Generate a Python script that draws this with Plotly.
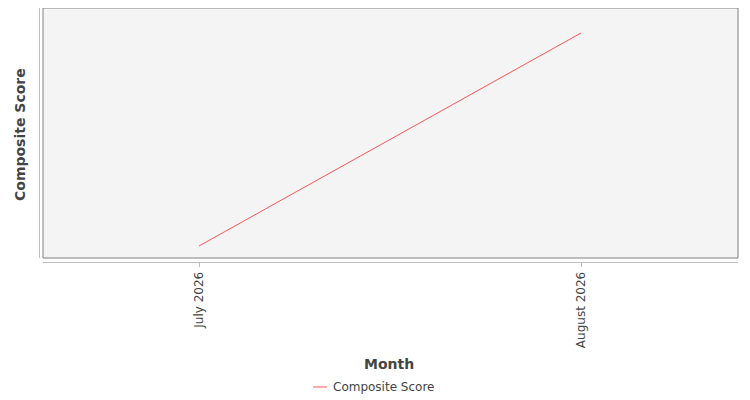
import plotly.graph_objects as go

# data
months = ["July 2026", "August 2026"]
scores = [52.0, 81.0]
series_name = "Composite Score"

# the page body has an 8px margin, so figure pixels = page pixels - 8
OFF = 8
W, H = 750 - 2 * OFF, 400 - OFF - 2
left, right, top, bottom = 39 - OFF, 738 - OFF, 8 - OFF, 262 - OFF
pw, ph = right - left, bottom - top


def px_x(x):  # page pixel -> paper x
    return (x - OFF - left) / pw


def px_y(y):  # page pixel -> paper y
    return (bottom - (y - OFF)) / ph


d = scores[1] - scores[0]
y_range = [scores[0] - 16 / 213 * d, scores[1] + 25 / 213 * d]
x_range = [-160 / 382, 1 + 157 / 382]

fig = go.Figure()
fig.add_trace(go.Scatter(x=months, y=scores, mode="lines", name=series_name,
                         line=dict(color="#ff5555", width=1), showlegend=False))

# grey plot background with a border, set a few px inside the axis lines
fig.add_shape(type="rect", xref="paper", yref="paper",
              x0=px_x(43), x1=px_x(738), y0=px_y(258), y1=px_y(8),
              fillcolor="#f4f4f4", line=dict(color="#808080", width=1), layer="below")
# detached axis lines
fig.add_shape(type="line", xref="paper", yref="paper",
              x0=px_x(39.5), x1=px_x(39.5), y0=px_y(258), y1=px_y(8),
              line=dict(color="#c0c0c0", width=1))
fig.add_shape(type="line", xref="paper", yref="paper",
              x0=px_x(43), x1=px_x(738), y0=px_y(262.5), y1=px_y(262.5),
              line=dict(color="#c0c0c0", width=1))
# legend
fig.add_shape(type="line", xref="paper", yref="paper",
              x0=px_x(313), x1=px_x(327), y0=px_y(387), y1=px_y(387),
              line=dict(color="#ff5555", width=1))

fig.update_layout(
    width=W, height=H,
    margin=dict(l=left, r=W - right, t=top, b=H - bottom, pad=0, autoexpand=False),
    paper_bgcolor="white", plot_bgcolor="white",
    font=dict(family="DejaVu Sans", size=12, color="#444444"),
    showlegend=False,
    annotations=[
        dict(text="<b>Month</b>", xref="paper", yref="paper", x=0.5, y=px_y(364),
             xanchor="center", yanchor="middle", showarrow=False,
             font=dict(size=14, color="#444444", family="DejaVu Sans")),
        dict(text="<b>Composite Score</b>", xref="paper", yref="paper", x=px_x(20), y=0.5,
             xanchor="center", yanchor="middle", textangle=-90, showarrow=False,
             font=dict(size=14, color="#444444", family="DejaVu Sans")),
        dict(text=series_name, xref="paper", yref="paper", x=px_x(331), y=px_y(387),
             xanchor="left", yanchor="middle", showarrow=False,
             font=dict(size=12, color="#444444", family="DejaVu Sans")),
    ],
)
fig.update_xaxes(type="category", range=x_range, showgrid=False, zeroline=False,
                 showline=False, ticks="outside", ticklen=4, tickcolor="#c0c0c0", tickwidth=1,
                 tickangle=-90, tickfont=dict(size=12, color="#444444"))
fig.update_yaxes(range=y_range, showgrid=False, zeroline=False, showticklabels=False,
                 showline=False, ticks="")

fig.write_html("out.html")
